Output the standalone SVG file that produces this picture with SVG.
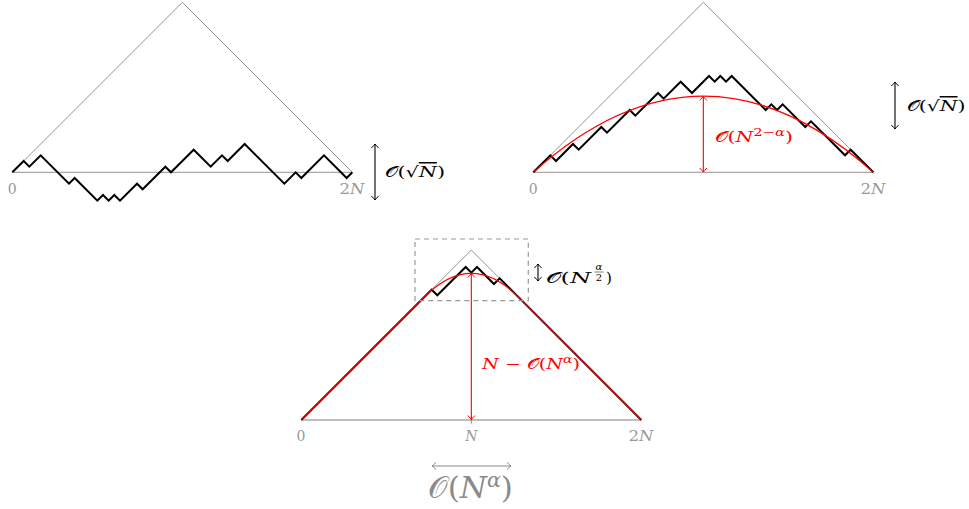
<svg xmlns="http://www.w3.org/2000/svg" width="969" height="509" viewBox="0 0 969 509">
<style>
.tri{fill:none;stroke:#8a8a8a;stroke-width:0.9}
.base{fill:none;stroke:#a8a8a8;stroke-width:1.4}
.walk{fill:none;stroke:#000;stroke-width:2;stroke-linejoin:miter;stroke-miterlimit:10}
.red{fill:none;stroke:#ff0000;stroke-width:1.2}
.ax{font-family:"DejaVu Serif","Liberation Serif",serif;font-size:14px;fill:#999;text-anchor:middle}
.m{font-family:"DejaVu Serif","Liberation Serif",serif;font-size:15px;fill:#000}
.rt{fill:#ff0000;font-size:14.5px}
.it{font-style:italic}
.arrK{fill:none;stroke:#000;stroke-width:1.1}
.arrR{fill:none;stroke:#ff0000;stroke-width:1.1}
.arrG{fill:none;stroke:#8a8a8a;stroke-width:1.1}
</style>
<defs>
<marker id="hk" markerUnits="userSpaceOnUse" markerWidth="12" markerHeight="12" refX="0" refY="0" viewBox="-6 -6 12 12" orient="auto-start-reverse" overflow="visible"><path d="M-4,-3.6 Q-1.2,-0.9 0,0 Q-1.2,0.9 -4,3.6" fill="none" stroke="#000" stroke-width="1"/></marker>
<marker id="hr" markerUnits="userSpaceOnUse" markerWidth="12" markerHeight="12" refX="0" refY="0" viewBox="-6 -6 12 12" orient="auto-start-reverse" overflow="visible"><path d="M-4,-3.6 Q-1.2,-0.9 0,0 Q-1.2,0.9 -4,3.6" fill="none" stroke="#ff0000" stroke-width="1"/></marker>
<marker id="hg" markerUnits="userSpaceOnUse" markerWidth="12" markerHeight="12" refX="0" refY="0" viewBox="-6 -6 12 12" orient="auto-start-reverse" overflow="visible"><path d="M-4,-3.6 Q-1.2,-0.9 0,0 Q-1.2,0.9 -4,3.6" fill="none" stroke="#8a8a8a" stroke-width="1"/></marker>
</defs>
<rect width="969" height="509" fill="#fff"/>

<g id="panel1">
<polyline class="tri" points="12.33,172.33 182.33,2.33 352.33,172.33"/>
<line class="base" x1="12.33" y1="172.33" x2="352.33" y2="172.33"/>
<polyline class="walk" points="12.33,172.33 23.67,161 29.33,166.67 40.67,155.33 69,183.67 74.67,178 97.33,200.67 103,195 108.67,200.67 114.33,195 120,200.67 137,183.67 142.67,189.33 165.33,166.67 171,172.33 193.67,149.67 210.67,166.67 222,155.33 227.67,161 244.67,144 284.33,183.67 295.67,172.33 301.33,178 324,155.33 346.67,178 352.33,172.33"/>
<text class="ax" x="12.3" y="194">0</text>
<text class="ax" x="352" y="194" textLength="25" lengthAdjust="spacingAndGlyphs">2<tspan class="it">N</tspan></text>
</g>
<g id="label1">
<line class="arrK" x1="375" y1="144" x2="375" y2="200" marker-start="url(#hk)" marker-end="url(#hk)"/>
<text class="m" x="385" y="177" textLength="60" lengthAdjust="spacingAndGlyphs">𝒪(√<tspan class="it" text-decoration="overline">N</tspan>)</text>
</g>

<g id="panel2">
<polyline class="tri" points="533.33,172.33 703.33,2.33 873.33,172.33"/>
<line class="base" x1="533.33" y1="172.33" x2="873.33" y2="172.33"/>
<polyline class="walk" points="533.33,172.33 550.33,155.33 556,161 573,144 578.67,149.67 601.33,127 607,132.67 629.67,110 635.33,115.67 658,93 663.67,98.67 680.67,81.67 692,93 709,76 714.67,81.67 720.33,76 726,81.67 731.67,76 765.67,110 771.33,104.33 777,110 782.67,104.33 805.33,127 811,121.33 845,155.33 850.67,149.67 873.33,172.33"/>
<path class="red" d="M533.33,172.33 Q703.33,20 873.33,172.33"/>
<line class="arrR" x1="703.33" y1="96.5" x2="703.33" y2="172" marker-start="url(#hr)" marker-end="url(#hr)"/>
<text class="m rt" x="715" y="141.5" textLength="78" lengthAdjust="spacingAndGlyphs">𝒪(<tspan class="it">N</tspan><tspan dy="-6" font-size="10.5">2−<tspan class="it">α</tspan></tspan><tspan dy="6">)</tspan></text>
<text class="ax" x="533.3" y="194">0</text>
<text class="ax" x="873" y="194" textLength="25" lengthAdjust="spacingAndGlyphs">2<tspan class="it">N</tspan></text>
</g>
<g id="label2">
<line class="arrK" x1="895" y1="82" x2="895" y2="129" marker-start="url(#hk)" marker-end="url(#hk)"/>
<text class="m" x="906.5" y="111" textLength="59" lengthAdjust="spacingAndGlyphs">𝒪(√<tspan class="it" text-decoration="overline">N</tspan>)</text>
</g>

<g id="panel3">
<polyline class="tri" points="301.33,420 471.33,250 641.33,420"/>
<line class="base" x1="301.33" y1="420" x2="641.33" y2="420"/>
<line x1="471.33" y1="416" x2="471.33" y2="423.5" stroke="#8a8a8a" stroke-width="1"/>
<polyline class="walk" points="301.33,420 431.67,289.67 437.33,295.33 465.67,267 471.33,272.67 477,267 494,284 499.67,278.33 641.33,420"/>
<path class="red" d="M301.33,420 L424.67,296.67 Q471.33,250 518,296.67 L641.33,420"/>
<line class="arrR" x1="471.33" y1="273.5" x2="471.33" y2="419.5" marker-start="url(#hr)" marker-end="url(#hr)"/>
<text class="m rt" x="482" y="368.5" textLength="98" lengthAdjust="spacingAndGlyphs"><tspan class="it">N</tspan> − 𝒪(<tspan class="it">N</tspan><tspan dy="-6" font-size="10.5" class="it">α</tspan><tspan dy="6">)</tspan></text>
<text class="ax" x="301" y="441">0</text>
<text class="ax" x="471.3" y="441"><tspan class="it">N</tspan></text>
<text class="ax" x="641" y="441" textLength="25" lengthAdjust="spacingAndGlyphs">2<tspan class="it">N</tspan></text>
</g>
<g id="zoombox">
<rect x="415" y="239" width="113.3" height="61.7" fill="none" stroke="#999" stroke-width="1.2" stroke-dasharray="5,4"/>
<line class="arrK" x1="538" y1="264" x2="538" y2="281" marker-start="url(#hk)" marker-end="url(#hk)"/>
<text class="m" x="546" y="283" textLength="45" lengthAdjust="spacingAndGlyphs">𝒪(<tspan class="it">N</tspan></text>
<text class="m" x="599" y="270" style="font-size:10px;text-anchor:middle" font-style="italic">α</text>
<line x1="594.5" y1="272" x2="603.5" y2="272" stroke="#000" stroke-width="0.5"/>
<text class="m" x="599" y="280.5" style="font-size:10px;text-anchor:middle">2</text>
<text class="m" x="606" y="283">)</text>
</g>
<g id="width">
<line class="arrG" x1="432" y1="466" x2="511" y2="466" marker-start="url(#hg)" marker-end="url(#hg)"/>
<text x="428" y="498" textLength="85" lengthAdjust="spacingAndGlyphs" style="font-family:'DejaVu Serif','Liberation Serif',serif;font-size:30px;fill:#8a8a8a">𝒪(<tspan class="it">N</tspan><tspan dy="-11" font-size="20" class="it">α</tspan><tspan dy="11">)</tspan></text>
</g>
</svg>
